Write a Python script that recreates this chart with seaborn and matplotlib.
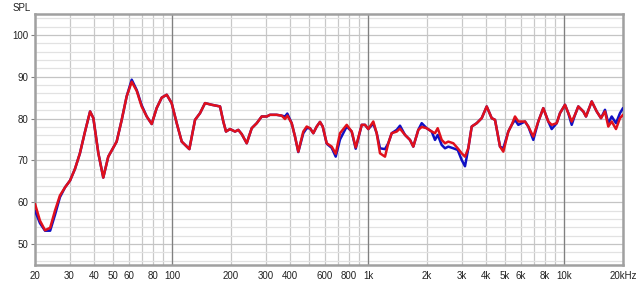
import numpy as np
import pandas as pd
import matplotlib
matplotlib.use("Agg")
import matplotlib.pyplot as plt
import seaborn as sns
from matplotlib.ticker import FixedLocator, FixedFormatter

# ---- data ----
freq = [20, 21.2, 22.5, 23.9, 25.3, 26.8, 28.5, 30.2, 32.0, 33.9, 36.0, 38.2, 39.7, 42.1, 44.6,
        47.3, 50.2, 52.2, 55.4, 58.7, 62.3, 66.1, 70.0, 74.3, 78.8, 83.5, 88.6, 94.0, 99.6,
        105.7, 112.1, 118.9, 122.6, 131.1, 139.0, 147.4, 159.4, 175.8, 182.7, 188.6, 197.7,
        209.7, 217.9, 226.8, 240.6, 255.1, 270.6, 286.9, 304.3, 316.2, 342.1, 362.8, 377.2,
        387.5, 408.0, 424.2, 440.9, 467.6, 486.7, 505.9, 526.0, 547.4, 569.0, 587.4, 615.6,
        652.9, 684.3, 719.7, 778.7, 825.8, 865.5, 928.8, 965.4, 1003.5, 1064.2, 1107.6,
        1151.4, 1221.1, 1269.3, 1320.9, 1401.0, 1456.3, 1544.4, 1637.9, 1702.6, 1805.6,
        1879.2, 1993.0, 2113.5, 2197.1, 2268.0, 2377.1, 2471.0, 2568.7, 2724.2, 2868.8,
        3006.8, 3125.6, 3249.2, 3381.6, 3586.1, 3803.1, 4033.2, 4277.2, 4446.3, 4715.3,
        4902, 5198, 5410, 5623, 5846, 6083, 6324, 6574, 6972, 7394, 7841, 8315, 8654, 9178,
        9540, 10118, 10518, 10947, 11380, 11830, 12546, 12950, 13849, 14687, 15444, 16186,
        16826, 17512, 18420, 19306, 20000]

spl_red = [59.6, 55.6, 53.3, 53.9, 58.0, 61.6, 63.6, 65.2, 68.0, 71.7, 76.9, 81.7, 80.1, 71.7, 65.9,
           70.9, 73.1, 74.5, 79.7, 85.3, 88.8, 86.6, 82.9, 80.5, 78.7, 82.5, 85.0, 85.7, 83.7,
           78.9, 74.5, 73.3, 72.7, 79.7, 81.3, 83.7, 83.3, 82.9, 79.3, 76.9, 77.5,
           76.9, 77.3, 76.3, 74.1, 77.7, 78.9, 80.5, 80.5, 80.9, 80.9, 80.7, 79.9,
           80.7, 78.9, 75.7, 72.1, 76.9, 78.1, 77.7, 76.5, 78.1, 79.2, 78.1, 74.1,
           73.3, 71.6, 76.5, 78.5, 76.9, 73.1, 78.5, 78.5, 77.5, 79.3, 76.5,
           71.7, 70.9, 74.1, 76.5, 76.9, 77.6, 76.1, 74.9, 73.3, 77.3,
           78.0, 77.7, 76.9, 76.5, 77.7, 74.9, 74.1, 74.5, 74.1, 72.9,
           71.7, 70.9, 72.9, 78.1, 78.9, 80.1, 82.9, 80.1, 79.7, 73.3,
           72.1, 76.9, 78.5, 80.5, 79.3, 79.3, 79.3, 78.1, 75.7, 79.3, 82.5, 79.3, 78.5, 78.9,
           81.3, 83.3, 81.3, 79.3, 80.9, 82.9, 81.7, 80.5, 84.1, 81.7, 80.1, 81.7,
           78.1, 79.3, 77.5, 80.1, 80.9]

spl_blue = [58.0, 55.0, 53.2, 53.2, 57.0, 61.2, 63.6, 65.2, 68.0, 71.7, 76.9, 81.7, 80.1, 71.7, 65.9,
            70.9, 73.1, 74.5, 79.7, 85.3, 89.3, 86.8, 83.2, 80.5, 78.7, 82.5, 85.0, 85.7, 83.7,
            78.9, 74.5, 73.3, 72.7, 79.7, 81.3, 83.7, 83.3, 82.9, 79.3, 76.9, 77.5,
            76.9, 77.3, 76.3, 74.1, 77.7, 78.9, 80.5, 80.5, 80.9, 80.9, 80.7, 80.5,
            81.2, 78.9, 75.7, 72.0, 76.5, 77.7, 77.7, 76.5, 78.1, 79.2, 78.1, 74.0,
            73.0, 70.9, 75.0, 78.1, 76.9, 72.8, 78.5, 78.5, 77.5, 78.8, 76.5,
            72.9, 72.7, 74.1, 76.5, 77.3, 78.3, 76.1, 74.9, 73.3, 77.3,
            78.9, 77.7, 76.9, 74.9, 76.1, 73.7, 72.9, 73.3, 72.9, 72.5,
            70.1, 68.6, 72.9, 78.1, 78.9, 80.1, 82.9, 80.1, 79.7, 73.3,
            72.9, 76.9, 78.5, 79.7, 78.5, 78.9, 79.3, 78.1, 74.9, 79.3, 82.5, 79.3, 77.5, 78.9,
            81.3, 83.3, 81.3, 78.5, 80.9, 82.9, 81.7, 80.5, 84.1, 81.7, 80.1, 82.1,
            78.9, 80.5, 78.9, 81.3, 82.5]

xtick_vals = [20, 30, 40, 50, 60, 80, 100, 200, 300, 400, 600, 800, 1000, 2000, 3000,
              4000, 5000, 6000, 8000, 10000, 20000]
xtick_labels = ["20", "30", "40", "50", "60", "80", "100", "200", "300", "400", "600", "800",
                "1k", "2k", "3k", "4k", "5k", "6k", "8k", "10k", "20kHz"]
ytick_vals = [50, 60, 70, 80, 90, 100]

# ---- figure ----
sns.set_theme(style="white")
plt.rcParams['font.family'] = ['Liberation Sans', 'DejaVu Sans']

df = pd.concat([
    pd.DataFrame({"freq": freq, "spl": spl_blue, "series": "blue"}),
    pd.DataFrame({"freq": freq, "spl": spl_red, "series": "red"}),
])

fig = plt.figure(figsize=(6.4, 2.84), dpi=100)
ax = fig.add_axes([35/640, 19/284, (623-35)/640, (265-14)/284])

sns.lineplot(data=df, x="freq", y="spl", hue="series", hue_order=["blue", "red"],
             palette={"blue": "#1010c4", "red": "#e0101c"}, linewidth=1.8,
             sort=False, estimator=None, legend=False, ax=ax, zorder=3,
             solid_joinstyle="round", solid_capstyle="round")

ax.set_xscale("log")
ax.set_xlim(20, 20000)
ax.set_ylim(45, 105)

# grid positions
minor_x = [m * d for d in (10, 100, 1000, 10000) for m in range(1, 10) if 20 <= m * d <= 20000]
ax.xaxis.set_minor_locator(FixedLocator(minor_x))
ax.xaxis.set_major_locator(FixedLocator(xtick_vals))
ax.xaxis.set_major_formatter(FixedFormatter(xtick_labels))
ax.xaxis.set_minor_formatter(FixedFormatter([]))
ax.yaxis.set_major_locator(FixedLocator(ytick_vals))
ax.yaxis.set_minor_locator(FixedLocator(list(range(46, 106, 2))))

ax.grid(which="minor", axis="x", color="#c8c8c8", linewidth=0.9, zorder=0)
ax.grid(which="major", axis="x", color="#c8c8c8", linewidth=0.9, zorder=0)
ax.grid(which="minor", axis="y", color="#e2e2e2", linewidth=0.9, zorder=0)
ax.grid(which="major", axis="y", color="#c4c4c4", linewidth=0.9, zorder=0)
for d in (100, 1000, 10000):
    ax.axvline(d, color="#808080", linewidth=0.9, zorder=1)

ax.tick_params(axis="x", which="both", length=0, pad=4, labelsize=7, labelcolor="#222222")
ax.tick_params(axis="y", which="major", length=3, width=0.8, color="#808080", pad=2,
               labelsize=7, labelcolor="#222222", left=True)
ax.tick_params(axis="y", which="minor", length=0)

for s in ax.spines.values():
    s.set_visible(True)
    s.set_color("#a0a0a0")
    s.set_linewidth(1.8)

ax.set_xlabel("")
ax.set_ylabel("")
fig.text(13/640, 1 - 11/284, "SPL", fontsize=7, color="#222222", va="baseline", ha="left")

fig.savefig("out.png", dpi=100, facecolor="white")
